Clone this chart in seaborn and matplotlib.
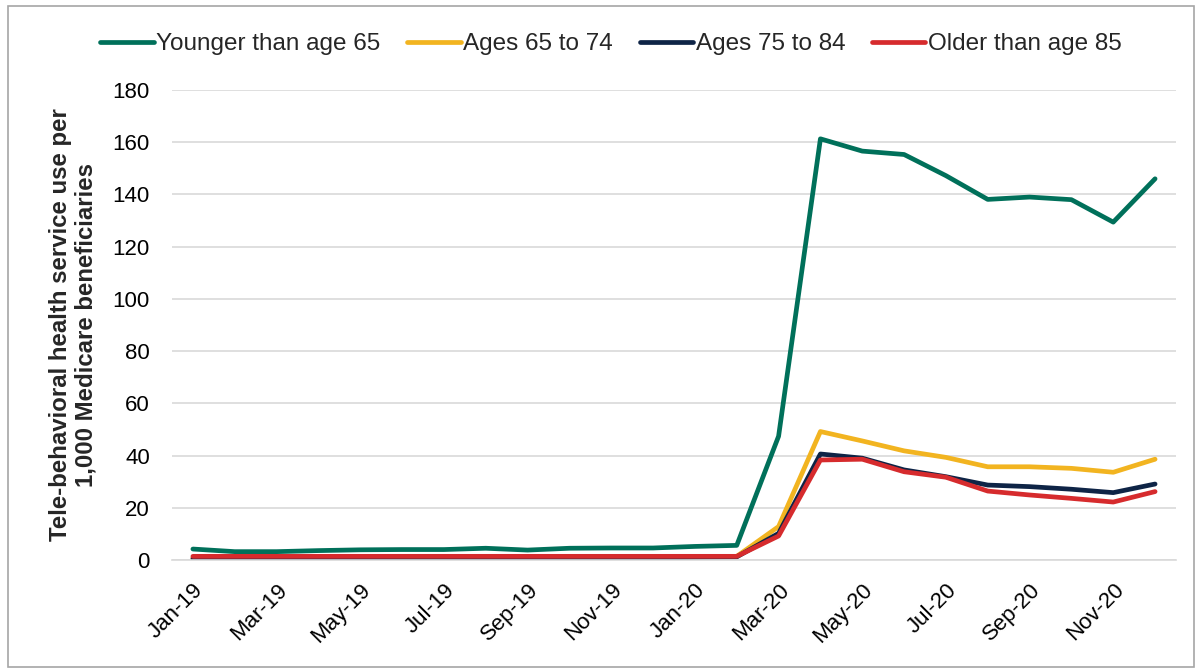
import matplotlib
matplotlib.use("Agg")
import matplotlib.pyplot as plt
import seaborn as sns
import pandas as pd
from matplotlib.patches import Rectangle

months = ["Jan-19", "Feb-19", "Mar-19", "Apr-19", "May-19", "Jun-19", "Jul-19", "Aug-19",
          "Sep-19", "Oct-19", "Nov-19", "Dec-19", "Jan-20", "Feb-20", "Mar-20", "Apr-20",
          "May-20", "Jun-20", "Jul-20", "Aug-20", "Sep-20", "Oct-20", "Nov-20", "Dec-20"]

younger_65 = [4.2, 3.2, 3.2, 3.6, 3.9, 4.0, 4.0, 4.5, 3.8, 4.5, 4.6, 4.6,
              5.2, 5.6, 47.4, 161.3, 156.6, 155.3, 147.2, 138.1, 139.0, 138.0, 129.4, 146.0]
ages_65_74 = [0.8, 0.8, 0.8, 0.8, 0.8, 0.8, 0.8, 0.8, 0.8, 0.8, 0.8, 0.9,
              1.2, 1.4, 12.8, 49.2, 45.6, 41.8, 39.3, 35.7, 35.7, 35.1, 33.6, 38.6]
ages_75_84 = [0.5, 0.5, 0.5, 0.5, 0.5, 0.5, 0.5, 0.5, 0.5, 0.5, 0.6, 0.7,
              1.0, 1.2, 10.2, 40.6, 39.0, 34.5, 31.9, 28.7, 28.1, 27.1, 25.8, 29.1]
older_85 = [1.4, 1.4, 1.4, 1.4, 1.4, 1.4, 1.4, 1.4, 1.4, 1.4, 1.4, 1.4,
            1.4, 1.4, 9.2, 38.3, 38.6, 33.8, 31.7, 26.4, 24.9, 23.6, 22.2, 26.2]

series_names = ["Younger than age 65", "Ages 65 to 74", "Ages 75 to 84", "Older than age 85"]
colors = ["#00705A", "#F2B420", "#0E2446", "#D62B2D"]

rows = []
for name, vals in zip(series_names, [younger_65, ages_65_74, ages_75_84, older_85]):
    for i, v in enumerate(vals):
        rows.append({"idx": i, "value": v, "group": name})
df = pd.DataFrame(rows)

sns.set_theme(style="white")
plt.rcParams["font.family"] = ["Liberation Sans", "DejaVu Sans"]

fig = plt.figure(figsize=(11.98, 6.71), dpi=100)
ax = fig.add_axes([172/1198, 1 - 560/671, (1176-172)/1198, (560-90)/671])

sns.lineplot(data=df, x="idx", y="value", hue="group", hue_order=series_names,
             palette=colors, linewidth=3.4, ax=ax, legend=True)

ax.set_xlim(-0.5, 23.5)
ax.set_ylim(0, 180)
ax.set_yticks(range(0, 181, 20))
ax.set_yticklabels([str(v) for v in range(0, 181, 20)], fontsize=16, color="#000000")
ax.set_xticks(range(0, 24, 2))
ax.set_xticklabels(months[::2], rotation=45, ha="right", rotation_mode="anchor",
                   fontsize=16, color="#000000")
ax.tick_params(axis="x", length=0, pad=14)
ax.tick_params(axis="y", length=0, pad=16)
ax.grid(axis="y", color="#D9D9D9", linewidth=1.2)
ax.set_axisbelow(True)
for s in ["top", "right", "left"]:
    ax.spines[s].set_visible(False)
ax.spines["bottom"].set_color("#D9D9D9")
ax.spines["bottom"].set_linewidth(1.2)
ax.set_xlabel("")
ax.set_ylabel("Tele-behavioral health service use per\n1,000 Medicare beneficiaries",
              fontsize=17.3, fontweight="bold", linespacing=1.15)
ax.yaxis.set_label_coords(-0.074, 0.5)

handles, labels = ax.get_legend_handles_labels()
ax.legend_.remove()
fig.legend(handles, labels, loc="center", bbox_to_anchor=(611/1198, 1 - 44/671), ncol=4,
           frameon=False, fontsize=17.5, handlelength=2.2, handletextpad=0.1,
           columnspacing=1.1)

fig.patches.append(Rectangle((8/1198, 4/671), (1194-8)/1198, (665-4)/671,
                             transform=fig.transFigure, fill=False,
                             edgecolor="#A6A6A6", linewidth=1.2))

fig.savefig("out.png", dpi=100)
